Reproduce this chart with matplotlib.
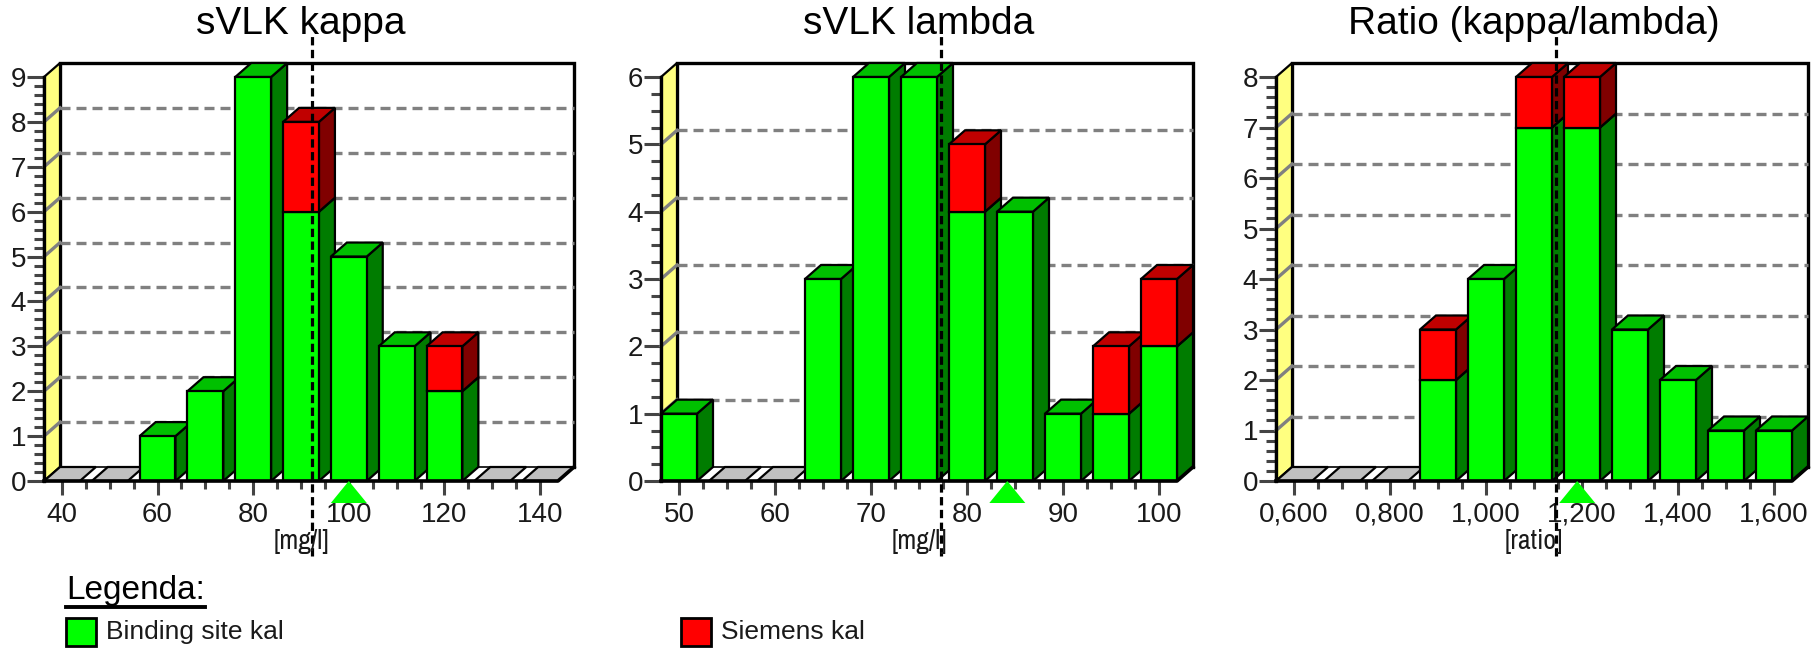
import matplotlib
matplotlib.use("Agg")
import matplotlib.pyplot as plt
from matplotlib.patches import Polygon, Rectangle
from matplotlib.lines import Line2D

plt.rcParams['font.family'] = ['Liberation Sans', 'DejaVu Sans']
NARROW = ['Archivo Narrow', 'Liberation Sans', 'DejaVu Sans']

# --- data -------------------------------------------------------------
kappa_bins = [40, 50, 60, 70, 80, 90, 100, 110, 120, 130, 140]
kappa_green = [0, 0, 1, 2, 9, 6, 5, 3, 2, 0, 0]
kappa_red = [0, 0, 0, 0, 0, 2, 0, 0, 1, 0, 0]
kappa_ticks = [40, 60, 80, 100, 120, 140]
kappa_mean = 92.4
kappa_target = 100

lambda_bins = [50, 55, 60, 65, 70, 75, 80, 85, 90, 95, 100]
lambda_green = [1, 0, 0, 3, 6, 6, 4, 4, 1, 1, 2]
lambda_red = [0, 0, 0, 0, 0, 0, 1, 0, 0, 1, 1]
lambda_ticks = [50, 60, 70, 80, 90, 100]
lambda_mean = 77.3
lambda_target = 84.2

ratio_bins = [0.6, 0.7, 0.8, 0.9, 1.0, 1.1, 1.2, 1.3, 1.4, 1.5, 1.6]
ratio_green = [0, 0, 0, 2, 4, 7, 7, 3, 2, 1, 1]
ratio_red = [0, 0, 0, 1, 0, 1, 1, 0, 0, 0, 0]
ratio_ticks = [0.6, 0.8, 1.0, 1.2, 1.4, 1.6]
ratio_labels = ['0,600', '0,800', '1,000', '1,200', '1,400', '1,600']
ratio_mean = 1.145
ratio_target = 1.19

titles = ['sVLK kappa', 'sVLK lambda', 'Ratio (kappa/lambda)']
units = ['[mg/l]', '[mg/l]', '[ratio]']
legend_names = ['Binding site kal', 'Siemens kal']

# --- style ------------------------------------------------------------
W, H = 1819, 648
DX, DY = 16, 14          # 3d depth in pixels
GREEN = ('#00ff00', '#00c000', '#007c00')   # front, top, side
RED = ('#ff0000', '#c00000', '#800000')
TXT = '#1a1a1a'

fig = plt.figure(figsize=(W / 100, H / 100), dpi=100)


def prism(ax, x_l, x_r, y_b, y_t, ddx, ddy, cols):
    side = [(x_r, y_b), (x_r + ddx, y_b + ddy), (x_r + ddx, y_t + ddy), (x_r, y_t)]
    top = [(x_l, y_t), (x_r, y_t), (x_r + ddx, y_t + ddy), (x_l + ddx, y_t + ddy)]
    for pts, c in ((side, cols[2]), (top, cols[1])):
        ax.add_patch(Polygon(pts, closed=True, fc=c, ec='black', lw=1.6,
                             zorder=5, clip_on=False))
    ax.add_patch(Rectangle((x_l, y_b), x_r - x_l, y_t - y_b, fc=cols[0],
                           ec='black', lw=1.6, zorder=5, clip_on=False))


def panel(px, bins, green, red, ymax, yminor, ticks, ticklabels, minor_step,
          mean, target, title, unit):
    x0, right, y0, top = px
    step = bins[1] - bins[0]
    lo = bins[0] - 0.375 * step
    hi = bins[-1] + 0.375 * step
    ax = fig.add_axes([x0 / W, (H - y0) / H, (right - x0) / W, (y0 - top) / H])
    sx = (right - DX - x0) / (hi - lo)
    sy = (y0 - top - DY) / ymax
    ddx, ddy = DX / sx, DY / sy
    ax.set_xlim(lo, hi + ddx)
    ax.set_ylim(0, ymax + ddy)
    ax.set_facecolor('none')
    for s in ax.spines.values():
        s.set_visible(False)

    # floor
    ax.add_patch(Polygon([(lo, 0), (hi, 0), (hi + ddx, ddy), (lo + ddx, ddy)],
                         fc='white', ec='black', lw=1.2, zorder=1, clip_on=False))
    # back wall frame
    ax.plot([lo + ddx, lo + ddx, hi + ddx, hi + ddx],
            [ddy, ymax + ddy, ymax + ddy, ddy], color='black', lw=2.4, zorder=2,
            clip_on=False, solid_joinstyle='miter')
    # grid lines on the back wall
    for v in range(1, ymax):
        ax.plot([lo + ddx, hi + ddx], [v + ddy, v + ddy], color='#808080',
                lw=2.4, dashes=(3.0, 1.8), zorder=3, clip_on=False)
    # left wall
    ax.add_patch(Polygon([(lo, 0), (lo, ymax), (lo + ddx, ymax + ddy), (lo + ddx, ddy)],
                         fc='#ffff80', ec='black', lw=1.6, zorder=2.5, clip_on=False))
    for v in range(1, ymax):
        ax.plot([lo, lo + ddx], [v, v + ddy], color='#808080', lw=2.4,
                zorder=3, clip_on=False)

    # bars / empty tiles
    half = 0.375 * step
    for b, g, r in zip(bins, green, red):
        if g == 0 and r == 0:
            ax.add_patch(Polygon([(b - half, 0), (b + half, 0), (b + half + ddx, ddy),
                                  (b - half + ddx, ddy)], fc='#c0c0c0', ec='black',
                                 lw=1.6, zorder=4, clip_on=False))
            continue
        if g:
            prism(ax, b - half, b + half, 0, g, ddx, ddy, GREEN)
        if r:
            prism(ax, b - half, b + half, g, g + r, ddx, ddy, RED)

    # axis lines
    ax.plot([lo, hi, hi + ddx], [0, 0, ddy], color='black', lw=2.6, zorder=6,
            clip_on=False)
    ax.plot([lo, lo], [0, ymax], color='black', lw=2.4, zorder=6, clip_on=False)

    # ticks
    ax.set_xticks(ticks)
    ax.set_xticklabels(ticklabels)
    n_minor = int(round((bins[-1] - bins[0]) / minor_step))
    ax.set_xticks([bins[0] + i * minor_step for i in range(n_minor + 1)], minor=True)
    ax.set_yticks(range(0, ymax + 1))
    n_y = int(round(ymax / yminor))
    ax.set_yticks([i * yminor for i in range(n_y + 1)], minor=True)
    ax.tick_params(axis='both', which='both', colors='#444444', labelcolor=TXT,
                   labelsize=20, width=2.2)
    ax.tick_params(axis='x', which='major', length=10, pad=5)
    ax.tick_params(axis='x', which='minor', length=6)
    ax.tick_params(axis='y', which='major', length=12, pad=1)
    ax.tick_params(axis='y', which='minor', length=7)

    # mean line and target marker
    ax.plot([mean, mean], [-(556 - y0) / sy, (y0 - 34) / sy], color='black', lw=2.3,
            dashes=(2.6, 1.4), zorder=8, clip_on=False)
    ax.add_patch(Polygon([(target, 0), (target - 18 / sx, -22 / sy),
                          (target + 18 / sx, -22 / sy)], fc='#00ff00', ec='none',
                         zorder=7, clip_on=False))

    cx = (x0 + right - DX) / 2
    fig.text(cx / W, 1 - 24 / H, title, ha='center', va='center', fontsize=28,
             color='black')
    fig.text(cx / W, 1 - 541 / H, unit, ha='center', va='center', fontsize=20,
             color=TXT, family=NARROW)
    return ax


panel((44, 574, 481, 63), kappa_bins, kappa_green, kappa_red, 9, 0.2,
      kappa_ticks, [str(t) for t in kappa_ticks], 5, kappa_mean, kappa_target,
      titles[0], units[0])
panel((661, 1193, 481, 63), lambda_bins, lambda_green, lambda_red, 6, 0.25,
      lambda_ticks, [str(t) for t in lambda_ticks], 2.5, lambda_mean, lambda_target,
      titles[1], units[1])
panel((1276, 1808, 481, 63), ratio_bins, ratio_green, ratio_red, 8, 0.2,
      ratio_ticks, ratio_labels, 0.05, ratio_mean, ratio_target,
      titles[2], units[2])

# legend
fig.text(66 / W, 1 - 599 / H, 'Legenda:', ha='left', va='baseline', fontsize=24,
         color='black')
fig.add_artist(Line2D([66 / W, 205 / W], [1 - 607 / H, 1 - 607 / H], color='black',
                      lw=2.8))
for xs, col, name in ((66, GREEN[0], legend_names[0]), (681, RED[0], legend_names[1])):
    fig.add_artist(Rectangle((xs / W, 1 - 646 / H), 30 / W, 28 / H, fc=col,
                             ec='black', lw=2, transform=fig.transFigure))
    fig.text((xs + 40) / W, 1 - 632 / H, name, ha='left', va='center', fontsize=19,
             color=TXT)

fig.savefig('out.png', dpi=100)
